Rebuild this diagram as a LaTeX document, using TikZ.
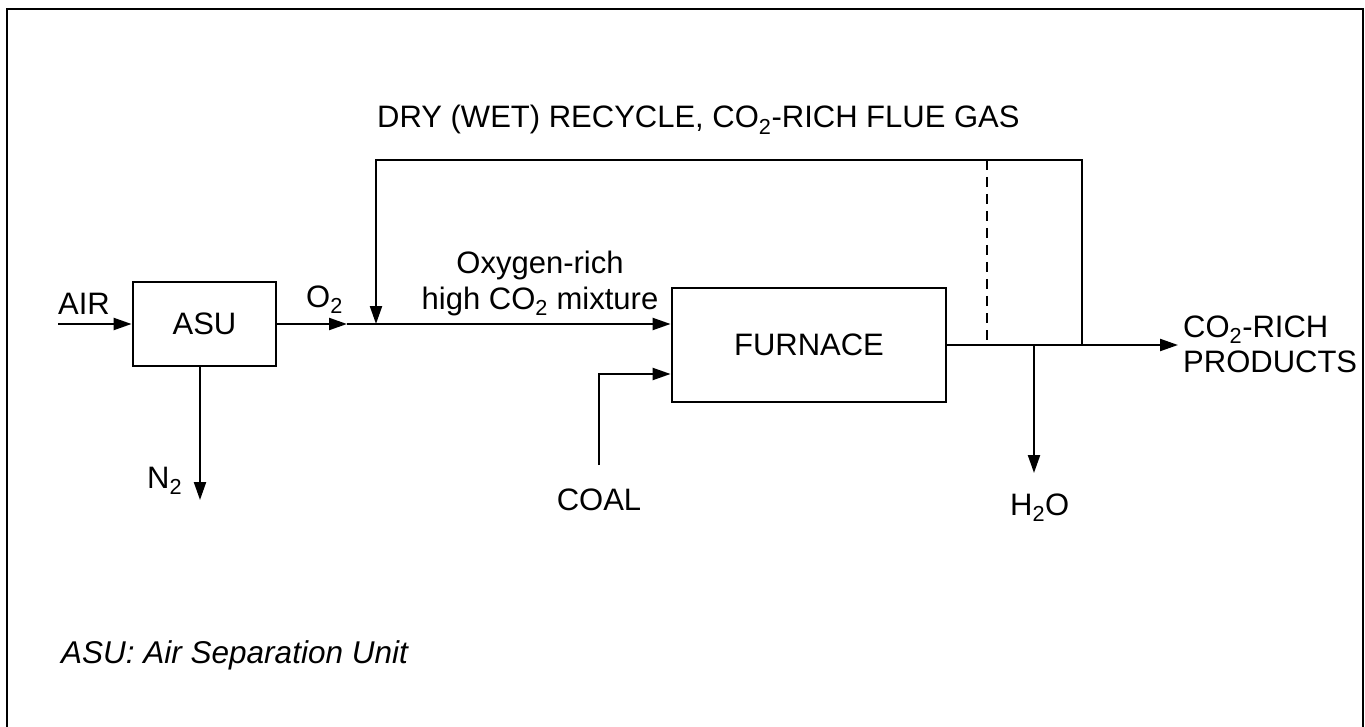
\documentclass[tikz,border=0pt]{standalone}
\usepackage{fontspec}
\setmainfont{Liberation Sans}
\usetikzlibrary{arrows.meta}
\begin{document}
\begin{tikzpicture}[x=1pt,y=-1pt,
  lbl/.style={inner sep=0pt, font=\fontsize{31}{35}\selectfont},
  flow/.style={line width=2.2pt, -{Triangle[length=18pt,width=12pt]}},
  unit/.style={draw, line width=2.8pt, inner sep=0pt, font=\fontsize{31}{35}\selectfont}]
\useasboundingbox (0,0) rectangle (1365,727);
\fill[white] (0,0) rectangle (1365,727);
% outer frame (bottom edge lies below the picture)
\draw[line width=2.2pt] (7,745) -- (7,9) -- (1363,9) -- (1363,745);

% units
\node[unit, minimum width=143pt, minimum height=84pt] (asu) at (204.5,324) {ASU};
\node[unit, minimum width=274pt, minimum height=114pt] (furn) at (809,345) {FURNACE};

% coordinates
\coordinate (airin) at (58,324);
\coordinate (o2tip) at (347,324);
\coordinate (mix) at (376,324);
\coordinate (rtl) at (376,160);
\coordinate (rtr) at (1082,160);
\coordinate (rbot) at (1082,345);
\coordinate (dtop) at (987,160);
\coordinate (dbot) at (987,345);
\coordinate (prod) at (1178,345);
\coordinate (wsplit) at (1034,345);
\coordinate (wout) at (1034,473);
\coordinate (coalin) at (599,465);
\coordinate (coalturn) at (599,374);
\coordinate (n2out) at (200,500);

% connectors
\draw[flow] (airin) -- (asu.west);
\draw[flow] (asu.east) -- (o2tip);
\draw[flow] (o2tip) -- (furn.west |- o2tip);
\draw[flow] (rbot) -- (rtr) -- (rtl) -- (mix);
\draw[line width=2pt, dash pattern=on 10pt off 7pt] (dtop) -- (dbot);
\draw[flow] (furn.east) -- (prod);
\draw[flow] (wsplit) -- (wout);
\draw[flow] (coalin) -- (coalturn) -- (furn.west |- coalturn);
\draw[flow] (asu.south -| n2out) -- (n2out);

% labels
\node[lbl, anchor=base west] (air) at (58,315) {AIR};
\node[lbl, anchor=base west] (o2) at (306,307) {O\textsubscript{2}};
\node[lbl, anchor=base west] (n2) at (147,488) {N\textsubscript{2}};
\node[lbl, anchor=base] (coal) at (599,510) {COAL};
\node[lbl, anchor=base west] (h2o) at (1010,515) {H\textsubscript{2}O};
\node[lbl, anchor=base west] (prod1) at (1183,337) {CO\textsubscript{2}-RICH};
\node[lbl, anchor=base west] (prod2) at (1183,372) {PRODUCTS};
\node[lbl, anchor=base] (mix1) at (540,274) {Oxygen-rich};
\node[lbl, anchor=base] (mix2) at (540,309) {high CO\textsubscript{2} mixture};
\node[lbl, anchor=base west] (rec) at (377,128) {DRY (WET) RECYCLE, CO\textsubscript{2}-RICH FLUE GAS};
\node[lbl, anchor=base west, font=\fontsize{31.5}{35}\selectfont\itshape] (legend) at (61,663) {ASU: Air Separation Unit};
\end{tikzpicture}
\end{document}
